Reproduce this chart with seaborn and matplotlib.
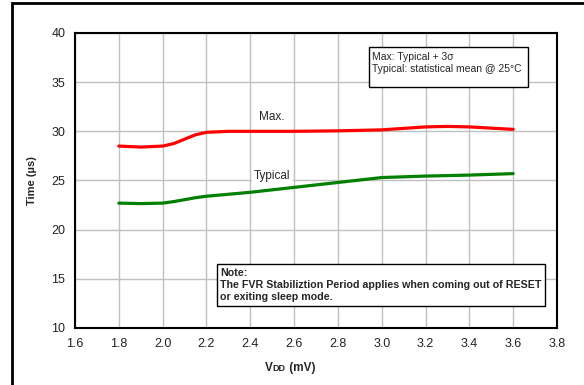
import matplotlib
matplotlib.use("Agg")
import matplotlib.pyplot as plt
import pandas as pd
import seaborn as sns
from matplotlib.patches import Rectangle
from matplotlib.offsetbox import TextArea, HPacker, AnchoredOffsetbox

# values
vdd = [1.8, 1.9, 2.0, 2.05, 2.1, 2.15, 2.2, 2.3, 2.4, 2.6, 2.8, 3.0, 3.2, 3.3, 3.4, 3.6]
max_time = [28.5, 28.4, 28.5, 28.75, 29.2, 29.65, 29.9, 30.0, 30.0, 30.0, 30.05,
            30.15, 30.45, 30.5, 30.45, 30.2]
typ_time = [22.7, 22.65, 22.7, 22.85, 23.05, 23.25, 23.4, 23.6, 23.8, 24.3, 24.8,
            25.3, 25.45, 25.5, 25.55, 25.7]

x_ticks = [1.6, 1.8, 2.0, 2.2, 2.4, 2.6, 2.8, 3.0, 3.2, 3.4, 3.6, 3.8]
y_ticks = [10, 15, 20, 25, 30, 35, 40]

df = pd.DataFrame({"vdd": vdd * 2,
                   "time": max_time + typ_time,
                   "series": ["Max."] * len(vdd) + ["Typical"] * len(vdd)})

sns.set_style("white")
plt.rcParams["font.family"] = ["Liberation Sans", "DejaVu Sans"]

fig = plt.figure(figsize=(5.84, 3.85), dpi=100)
ax = fig.add_axes([75 / 584, 1 - 328 / 385, 482 / 584, 295 / 385])

sns.lineplot(data=df, x="vdd", y="time", hue="series",
             palette={"Max.": "#ff0000", "Typical": "#008000"},
             linewidth=2.3, legend=False, ax=ax, zorder=3)

ax.set_xlim(1.6, 3.8)
ax.set_ylim(10, 40)
ax.set_xticks(x_ticks)
ax.set_xticklabels([f"{t:.1f}" for t in x_ticks])
ax.set_yticks(y_ticks)
ax.grid(True, color="#c0c0c0", linewidth=1)
ax.tick_params(length=0, labelsize=9, pad=7, labelcolor="#222222")
for s in ax.spines.values():
    s.set_color("black")
    s.set_linewidth(1.5)

ax.set_xlabel("")
ax.set_ylabel("Time (µs)", fontsize=8, fontweight="bold", labelpad=10)

# x label: V with small-caps DD
parts = [TextArea("V", textprops=dict(fontsize=8.5, fontweight="bold")),
         TextArea("DD", textprops=dict(fontsize=6.5, fontweight="bold")),
         TextArea(" (mV)", textprops=dict(fontsize=8.5, fontweight="bold"))]
xlab = AnchoredOffsetbox(loc="center", child=HPacker(children=parts, pad=0, sep=0, align="baseline"),
                         frameon=False, bbox_to_anchor=(290 / 584, 1 - 368 / 385),
                         bbox_transform=fig.transFigure, borderpad=0, pad=0)
fig.add_artist(xlab)

ax.text(2.50, 31.45, "Max.", fontsize=8.5, ha="center", va="center",
        bbox=dict(facecolor="white", edgecolor="none", pad=1.5))
ax.text(2.50, 25.45, "Typical", fontsize=8.5, ha="center", va="center",
        bbox=dict(facecolor="white", edgecolor="none", pad=1.5))

# top-right note box
ax.add_patch(Rectangle((0.61, 0.817), 0.33, 0.135, transform=ax.transAxes,
                       facecolor="white", edgecolor="black", linewidth=1, zorder=4))
ax.text(0.616, 0.937, "Max: Typical + 3σ\nTypical: statistical mean @ 25°C",
        transform=ax.transAxes, fontsize=7.5, va="top", ha="left", linespacing=1.35,
        zorder=5)

ax.text(0.301, 0.205, "Note:\nThe FVR Stabiliztion Period applies when coming out of RESET\nor exiting sleep mode.",
        transform=ax.transAxes, fontsize=7.7, fontweight="bold", va="top", ha="left",
        linespacing=1.3,
        bbox=dict(facecolor="white", edgecolor="black", linewidth=1, pad=2.5))

fig.patches.append(Rectangle((12 / 584, -0.1), 1.2, 1.1 - 3 / 385,
                             transform=fig.transFigure, fill=False,
                             edgecolor="black", linewidth=2, zorder=0))

fig.savefig("out.png", dpi=100)
